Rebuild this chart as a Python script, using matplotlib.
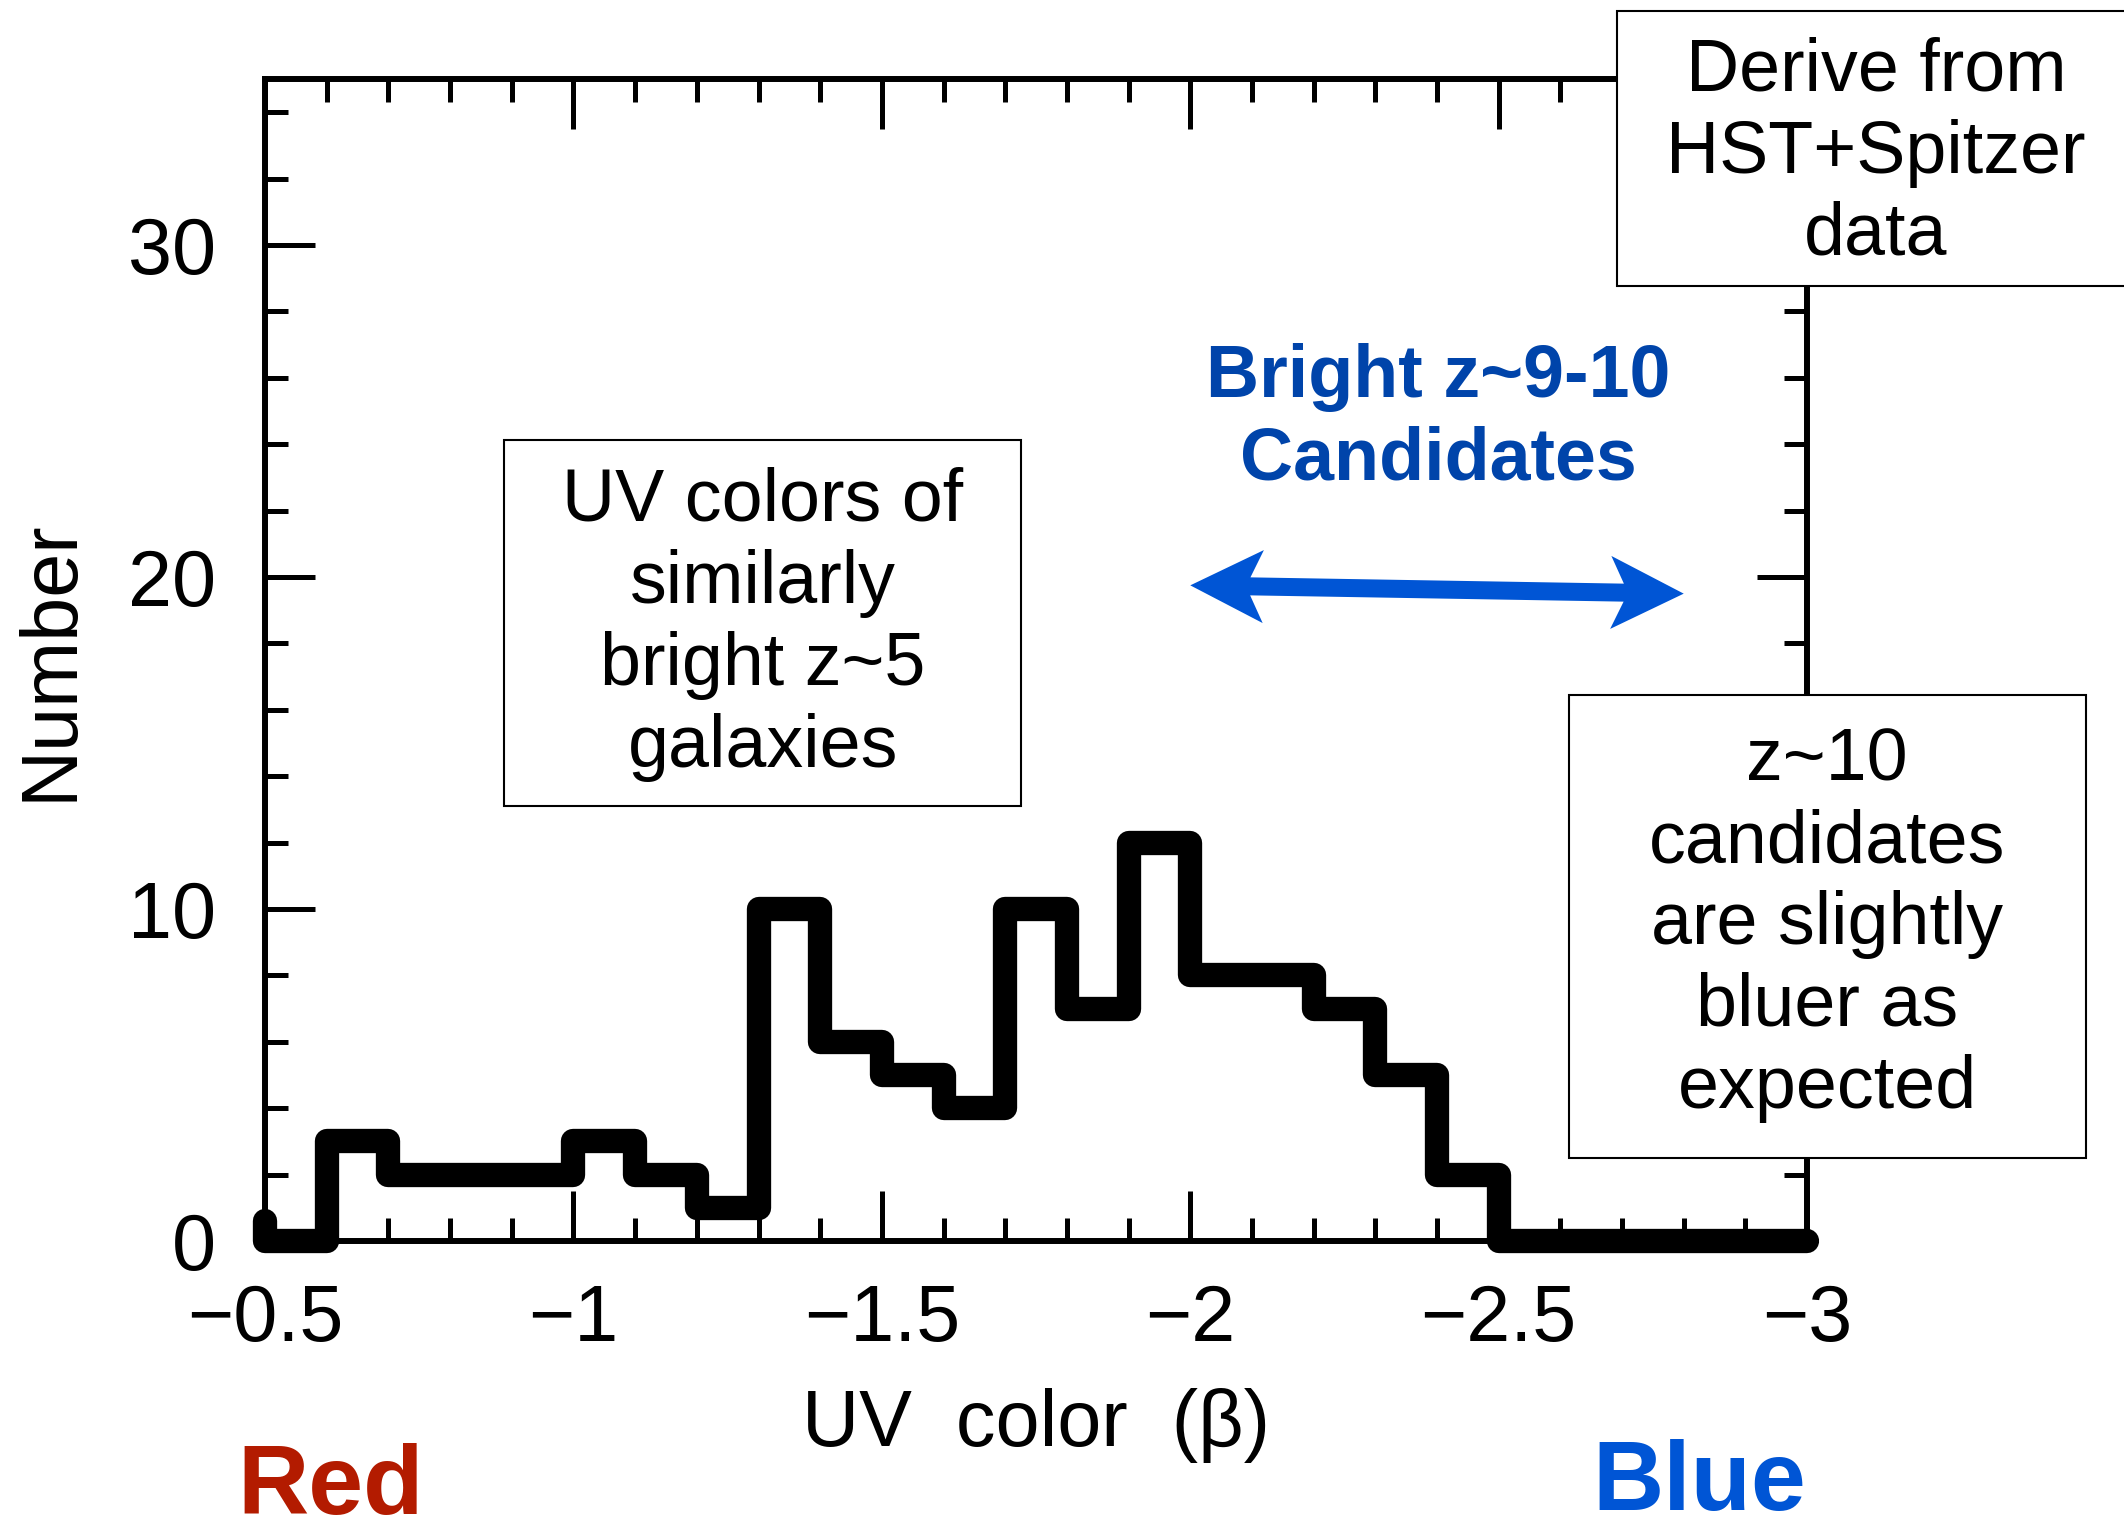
import matplotlib
matplotlib.use("Agg")
import matplotlib.pyplot as plt
import numpy as np
from matplotlib.patches import Rectangle, Polygon
from matplotlib.transforms import IdentityTransform

# histogram of UV slopes (bin edges run from red to blue)
edges = np.round(np.arange(-0.5, -3.05, -0.1), 2)
counts = [0, 3, 2, 2, 2, 3, 2, 1, 10, 6, 5, 4, 10, 7, 12, 8, 8, 7, 5, 2, 0, 0, 0, 0, 0]
first_stub = 0.6

xticks = [-0.5, -1, -1.5, -2, -2.5, -3]
xticklabels = ["\u22120.5", "\u22121", "\u22121.5", "\u22122", "\u22122.5", "\u22123"]
yticks = [0, 10, 20, 30]

# arrow marking the z~9-10 range (data coords)
arrow_start = (-2.0, 19.75)
arrow_end = (-2.8, 19.5)

plt.rcParams['font.family'] = ['Liberation Sans', 'DejaVu Sans']

fig = plt.figure(figsize=(21.24, 15.35), dpi=100)
ax = fig.add_axes([0.1248, 0.1915, 0.726, 0.757])

xs = np.concatenate([[edges[0]], np.repeat(edges, 2)[1:-1]])
ys = np.concatenate([[first_stub], np.repeat(counts, 2)])
ax.plot(xs, ys, color='black', lw=17.5, solid_joinstyle='round',
        solid_capstyle='round', clip_on=False, zorder=3)

ax.set_xlim(-0.5, -3)
ax.set_ylim(0, 35)
ax.set_xticks(xticks)
ax.set_xticklabels(xticklabels)
ax.set_xticks(np.arange(-0.5, -3.01, -0.1), minor=True)
ax.set_yticks(yticks)
ax.set_yticks(np.arange(0, 35, 2), minor=True)
for s in ax.spines.values():
    s.set_linewidth(4.3)
ax.tick_params(which='both', direction='in', top=True, right=True, width=3.6)
ax.tick_params(which='major', length=36, labelsize=57)
ax.tick_params(which='minor', length=16.6)
ax.tick_params(axis='x', which='major', pad=30)
ax.tick_params(axis='y', which='major', pad=35)

ax.set_xlabel("UV  color  (\u03b2)", fontsize=57)
ax.set_ylabel("Number", fontsize=57)
ax.xaxis.set_label_coords(0.5, -0.159)
ax.yaxis.set_label_coords(-0.139, 0.5)
ax.xaxis.label.set_va('center')
ax.yaxis.label.set_va('center')

# blue double arrow, built in pixel space
fig.canvas.draw()
p0 = ax.transData.transform(arrow_start)
p1 = ax.transData.transform(arrow_end)
e = (p1 - p0) / np.linalg.norm(p1 - p0)
n = np.array([-e[1], e[0]])
L = np.linalg.norm(p1 - p0)
hl, hw, notch, sw = 73, 36.5, 60, 9
local = [(0, 0), (hl, hw), (notch, sw), (L - notch, sw), (L - hl, hw), (L, 0),
         (L - hl, -hw), (L - notch, -sw), (notch, -sw), (hl, -hw)]
pts = [p0 + u * e + v * n for u, v in local]
fig.add_artist(Polygon(pts, closed=True, facecolor='#0055D5', edgecolor='none',
                       transform=IdentityTransform(), zorder=6))

# boxes
def box(x0, y0, w, h):
    fig.add_artist(Rectangle((x0, y0), w, h, transform=fig.transFigure,
                             facecolor='white', edgecolor='black', lw=1.5,
                             zorder=5))

box(0.7613, 0.8137, 0.26, 0.1792)
fig.text(0.8832, 0.9003, "Derive from\nHST+Spitzer\ndata", ha='center', va='center',
         fontsize=53, linespacing=1.24, zorder=7)

box(0.2373, 0.4749, 0.2434, 0.2384)
fig.text(0.3592, 0.5932, "UV colors of\nsimilarly\nbright z~5\ngalaxies", ha='center',
         va='center', fontsize=53, linespacing=1.24, zorder=7)

box(0.7387, 0.2456, 0.2434, 0.3016)
fig.text(0.8602, 0.3977, "z~10\ncandidates\nare slightly\nbluer as\nexpected", ha='center',
         va='center', fontsize=53, linespacing=1.24, zorder=7)

fig.text(0.677, 0.7273, "Bright z~9-10\nCandidates", ha='center', va='center',
         fontsize=53, fontweight='bold', color='#0044AA', linespacing=1.24, zorder=7)

fig.text(0.1116, 0.014, "Red", ha='left', va='baseline', fontsize=71,
         fontweight='bold', color='#B31B00')
fig.text(0.7495, 0.016, "Blue", ha='left', va='baseline', fontsize=71,
         fontweight='bold', color='#0055D5')

fig.savefig("out.png", dpi=100)
